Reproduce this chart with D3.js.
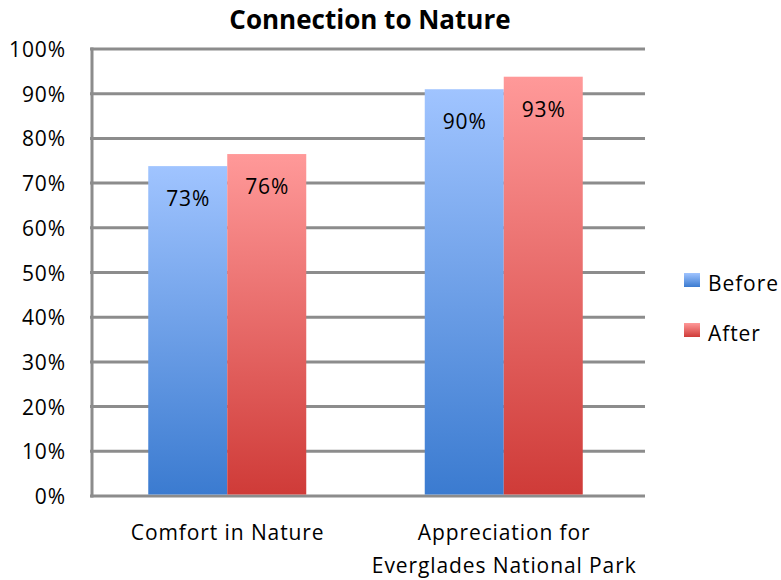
<!DOCTYPE html>
<html><head><meta charset="utf-8">
<script src="https://cdn.jsdelivr.net/npm/d3@7"></script>
<style>body{margin:0;background:#fff}svg{display:block}</style>
</head><body>
<script>
const title = "Connection to Nature";
const categories = [["Comfort in Nature"], ["Appreciation for", "Everglades National Park"]];
const series = ["Before", "After"];
const valuesBefore = [0.738, 0.910];
const valuesAfter = [0.765, 0.938];
const labelsBefore = ["73%", "90%"];
const labelsAfter = ["76%", "93%"];
const yTicks = [0, 0.1, 0.2, 0.3, 0.4, 0.5, 0.6, 0.7, 0.8, 0.9, 1.0];

const W = 781, H = 580;
const m = {left: 92, right: 645, top: 49, bottom: 496};
const font = "'Open Sans', sans-serif";
const ls = 0.9;

const svg = d3.select("body").append("svg").attr("width", W).attr("height", H);
const defs = svg.append("defs");
const grads = [
  {id: "gB", top: "#a0c4ff", bot: "#3b7bd0"},
  {id: "gA", top: "#ff9999", bot: "#cf3b38"}
];
grads.forEach(g => {
  const lg = defs.append("linearGradient").attr("id", g.id).attr("x1", 0).attr("y1", 0).attr("x2", 0).attr("y2", 1);
  lg.append("stop").attr("offset", "0%").attr("stop-color", g.top);
  lg.append("stop").attr("offset", "100%").attr("stop-color", g.bot);
});

const y = d3.scaleLinear().domain([0, 1]).range([m.bottom, m.top]);
const x0 = d3.scaleBand().domain(d3.range(categories.length)).range([m.left - 3, m.right - 3]).padding(0);
const x1 = d3.scaleBand().domain(series).range([0, x0.bandwidth()]).paddingInner(0).paddingOuter(0.75);

// gridlines
svg.append("g").selectAll("line").data(yTicks).join("line")
  .attr("x1", m.left - 2).attr("x2", m.right)
  .attr("y1", d => y(d)).attr("y2", d => y(d))
  .attr("stroke", "#8c8c8c").attr("stroke-width", 3);
svg.append("line").attr("x1", m.left).attr("x2", m.left).attr("y1", m.top - 1.5).attr("y2", m.bottom + 1.5)
  .attr("stroke", "#8c8c8c").attr("stroke-width", 3);

// y tick labels
svg.append("g").selectAll("text").data(yTicks).join("text")
  .attr("x", 66).attr("y", d => y(d) + 8)
  .attr("text-anchor", "end").attr("font-family", font).attr("font-size", 21).attr("letter-spacing", ls).attr("fill", "#000")
  .text(d => d3.format(".0%")(d));

const data = categories.map((c, i) => ({i, vals: [
  {s: "Before", v: valuesBefore[i], l: labelsBefore[i], g: "url(#gB)"},
  {s: "After", v: valuesAfter[i], l: labelsAfter[i], g: "url(#gA)"}
]}));

const groups = svg.append("g").selectAll("g").data(data).join("g")
  .attr("transform", d => `translate(${x0(d.i)},0)`);
groups.selectAll("rect").data(d => d.vals).join("rect")
  .attr("x", d => x1(d.s)).attr("width", x1.bandwidth())
  .attr("y", d => y(d.v)).attr("height", d => y(0) - y(d.v) - 1.5)
  .attr("fill", d => d.g);
groups.selectAll("text").data(d => d.vals).join("text")
  .attr("x", d => x1(d.s) + x1.bandwidth() / 2 + ls / 2).attr("y", d => y(d.v) + 40)
  .attr("text-anchor", "middle").attr("font-family", font).attr("font-size", 21).attr("letter-spacing", ls).attr("fill", "#000")
  .text(d => d.l);

// x labels
const xl = svg.append("g").selectAll("text").data(categories).join("text")
  .attr("x", (d, i) => x0(i) + x0.bandwidth() / 2 + ls / 2)
  .attr("text-anchor", "middle").attr("font-family", font).attr("font-size", 21).attr("letter-spacing", ls).attr("fill", "#000");
xl.each(function(d) {
  const t = d3.select(this);
  d.forEach((line, k) => t.append("tspan").attr("x", t.attr("x")).attr("y", 540 + k * 33).text(line));
});

// title
svg.append("text").attr("x", 370).attr("y", 29).attr("text-anchor", "middle")
  .attr("font-family", font).attr("font-weight", "bold").attr("font-size", 26).attr("fill", "#000")
  .text(title);

// legend
const leg = svg.append("g").selectAll("g").data(series).join("g")
  .attr("transform", (d, i) => `translate(684,${273 + i * 50})`);
leg.append("rect").attr("width", 16).attr("height", 14).attr("fill", (d, i) => i === 0 ? "url(#gB)" : "url(#gA)");
leg.append("text").attr("x", 24).attr("y", 18).attr("font-family", font).attr("font-size", 21).attr("letter-spacing", ls).attr("fill", "#000").text(d => d);
</script>
</body></html>
